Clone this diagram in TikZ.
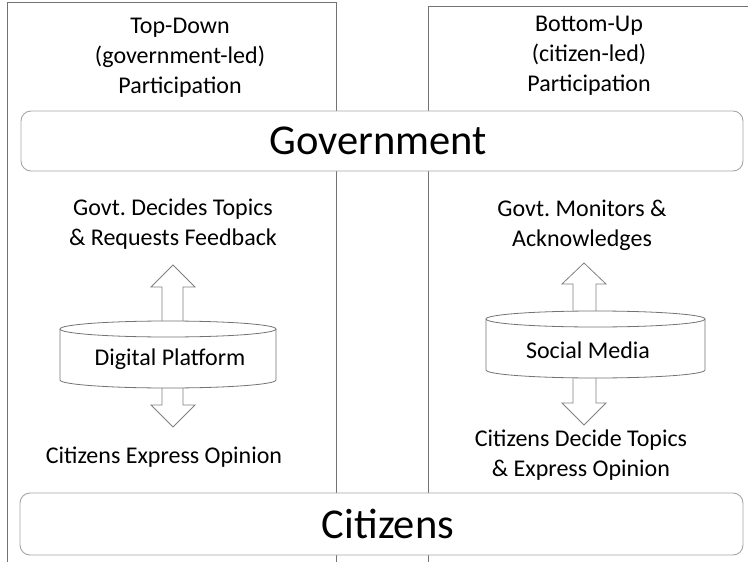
\documentclass[tikz,border=0pt]{standalone}
\usepackage{fontspec}
\setmainfont{Carlito}
\begin{document}
\frenchspacing
\begin{tikzpicture}[x=1pt,y=-1pt,
  panel/.style={draw=black!55,line width=0.9pt},
  bigbox/.style={draw=black!35,line width=0.9pt,rounded corners=10pt},
  bigtxt/.style={font=\fontsize{42.5}{50}\selectfont,inner sep=0pt},
  txt/.style={font=\fontsize{24}{30}\selectfont\frenchspacing,align=center,inner sep=0pt},
  cyl/.style={draw=black!55,line width=0.8pt,fill=white},
  blockarrow/.style={draw=black!50,line width=0.8pt,fill=white,line join=miter}]
\useasboundingbox (0,0) rectangle (748,562);
% panels
\draw[panel] (7,562) -- (7,2) -- (336,2) -- (336,562);
\draw[panel] (428,562) -- (428,6) -- (748,6);
% header texts
\node[txt] (tdhead) at (180,58) {Top-Down\\(government-led)\\Participation};
\node[txt] (buhead) at (589,56) {Bottom-Up\\(citizen-led)\\Participation};
% government and citizens boxes
\draw[bigbox,fill=white] (21,111) rectangle (743,171);
\node[bigtxt] (gov) at (378,141) {Government};
\draw[bigbox,fill=white] (20,493) rectangle (743,555);
\node[bigtxt] (cit) at (388,524) {Citizens};
% left column texts
\node[txt] (ltop) at (173,224) {Govt. Decides Topics\\\& Requests Feedback};
\node[txt] (lbot) at (164,457) {Citizens Express Opinion};
% right column texts
\node[txt] (rtop) at (582,225) {Govt. Monitors \&\\Acknowledges};
\node[txt] (rbot) at (581,455) {Citizens Decide Topics\\\& Express Opinion};
% left arrows
\draw[blockarrow] (162,330) -- (162,287) -- (151,287) -- (173,265) -- (195,287) -- (183,287) -- (183,330) -- cycle;
\draw[blockarrow] (162,380) -- (162,405) -- (151,405) -- (173,427) -- (195,405) -- (183,405) -- (183,380) -- cycle;
% left cylinder
\draw[cyl] (60,329) -- (60,380) arc[start angle=180,end angle=0,x radius=108,y radius=8] -- (276,329) arc[start angle=0,end angle=-180,x radius=108,y radius=8] -- cycle;
\draw[cyl,fill=none] (60,329) arc[start angle=180,end angle=0,x radius=108,y radius=8];
\node[txt] (dp) at (170,359) {Digital Platform};
% right arrows
\draw[blockarrow] (573,320) -- (573,284) -- (562,284) -- (584,263) -- (606,284) -- (596,284) -- (596,320) -- cycle;
\draw[blockarrow] (573,370) -- (573,403) -- (562,403) -- (584,425) -- (606,403) -- (596,403) -- (596,370) -- cycle;
% right cylinder
\draw[cyl] (486,319) -- (486,370) arc[start angle=180,end angle=0,x radius=109.5,y radius=8] -- (705,319) arc[start angle=0,end angle=-180,x radius=109.5,y radius=8] -- cycle;
\draw[cyl,fill=none] (486,319) arc[start angle=180,end angle=0,x radius=109.5,y radius=8];
\node[txt] (sm) at (588,350) {Social Media};
\end{tikzpicture}
\end{document}
